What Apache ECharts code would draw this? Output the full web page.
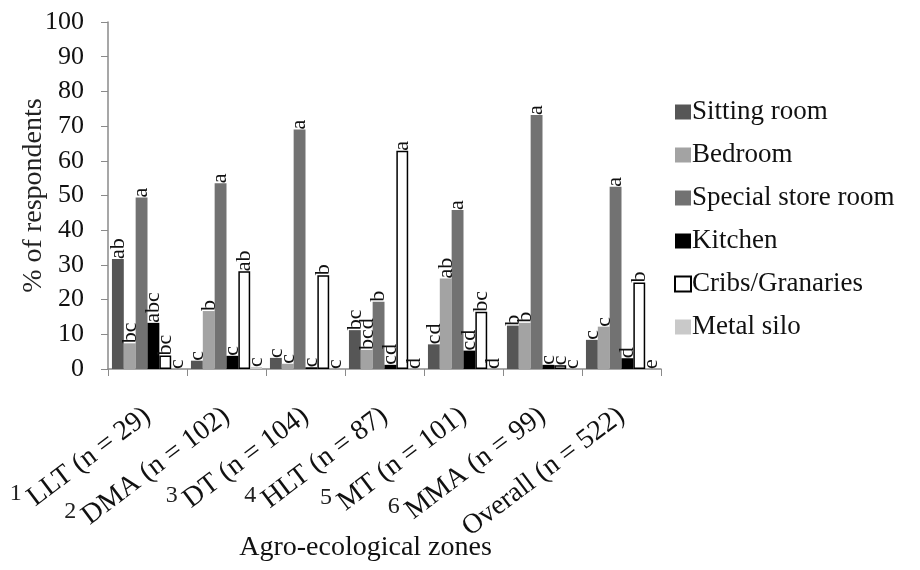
<!DOCTYPE html>
<html>
<head>
<meta charset="utf-8">
<script src="https://cdn.jsdelivr.net/npm/echarts@6/dist/echarts.min.js"></script>
<style>html,body{margin:0;padding:0;background:#fff}#c{width:920px;height:570px}</style>
</head>
<body>
<div id="c"></div>
<script>
const zoneNums = ['1', '2', '3', '4', '5', '6', ''];
const zones = ['LLT (n = 29)', 'DMA (n = 102)', 'DT (n = 104)', 'HLT (n = 87)', 'MT (n = 101)', 'MMA (n = 99)', 'Overall (n = 522)'];
const seriesNames = ['Sitting room', 'Bedroom', 'Special store room', 'Kitchen', 'Cribs/Granaries', 'Metal silo'];
const sittingRoom = [31.7, 2.4, 3.2, 11.2, 7.1, 12.5, 8.4];
const bedroom = [7.4, 16.7, 1.5, 5.5, 26.1, 13.3, 12.2];
const specialStore = [49.4, 53.5, 69.0, 19.4, 45.8, 73.2, 52.5];
const kitchen = [13.3, 3.8, 0.5, 1.2, 5.3, 1.2, 3.1];
const cribs = [3.9, 28.2, 27.0, 62.9, 16.5, 1.1, 24.9];
const metalSilo = [0, 0.6, 0, 0, 0, 0, 0];
const sittingLetters = ['ab', 'c', 'c', 'bc', 'cd', 'b', 'c'];
const bedroomLetters = ['bc', 'b', 'c', 'bcd', 'ab', 'b', 'c'];
const specialLetters = ['a', 'a', 'a', 'b', 'a', 'a', 'a'];
const kitchenLetters = ['abc', 'c', 'c', 'cd', 'cd', 'c', 'd'];
const cribsLetters = ['bc', 'ab', 'b', 'a', 'bc', 'c', 'b'];
const siloLetters = ['c', 'c', 'c', 'd', 'd', 'c', 'e'];
const yTicks = [0, 10, 20, 30, 40, 50, 60, 70, 80, 90, 100];

const values = [sittingRoom, bedroom, specialStore, kitchen, cribs, metalSilo];
const letters = [sittingLetters, bedroomLetters, specialLetters, kitchenLetters, cribsLetters, siloLetters];
const fills = ['#565656', '#a3a3a3', '#727272', '#000000', '#ffffff', '#c9c9c9'];
const borders = [null, null, null, null, '#000000', null];
const serif = '"Liberation Serif", "DejaVu Serif", serif';
const labelFontSize = 28;
const labelRotate = 37;
const labelMargin = 44;

const chart = echarts.init(document.getElementById('c'), null, {renderer: 'canvas'});
chart.setOption({
  animation: false,
  backgroundColor: '#ffffff',
  textStyle: {fontFamily: serif},
  grid: {left: 108, right: 259, top: 22, bottom: 201, containLabel: false, outerBoundsMode: 'none'},
  legend: {
    orient: 'vertical', left: 669, top: 93,
    itemWidth: 16, itemHeight: 15, itemGap: 15,
    icon: 'rect',
    textStyle: {fontFamily: serif, fontSize: 27, lineHeight: 28, color: '#111', padding: [0, 0, 0, -4]},
    data: seriesNames
  },
  xAxis: {
    type: 'category',
    data: zones,
    name: 'Agro-ecological zones',
    nameLocation: 'middle', nameGap: 165, nameMoveOverlap: false,
    nameTextStyle: {fontFamily: serif, fontSize: 28, color: '#111', padding: [0, 38, 0, 0]},
    axisLine: {lineStyle: {color: '#8a8a8a', width: 1.5}},
    axisTick: {show: true, length: 7, lineStyle: {color: '#8a8a8a'}, alignWithLabel: false},
    axisLabel: {
      interval: 0, rotate: labelRotate, margin: labelMargin,
      fontFamily: serif, fontSize: labelFontSize, color: '#111'
    }
  },
  yAxis: {
    type: 'value', min: 0, max: 100, interval: 10,
    name: '% of respondents',
    nameLocation: 'middle', nameGap: 60, nameRotate: 90, nameMoveOverlap: false,
    nameTextStyle: {fontFamily: serif, fontSize: 28, color: '#222'},
    axisLine: {show: true, lineStyle: {color: '#8a8a8a', width: 1.5}},
    axisTick: {show: true, length: 7, lineStyle: {color: '#8a8a8a'}},
    splitLine: {show: false},
    axisLabel: {
      margin: 24, fontFamily: serif, fontSize: 26, color: '#111',
      formatter: v => yTicks.includes(v) ? String(v) : ''
    }
  },
  series: values.map((vals, s) => ({
    name: seriesNames[s],
    type: 'bar',
    barGap: '0%',
    barCategoryGap: '10%',
    itemStyle: {color: fills[s], borderColor: borders[s] || fills[s], borderWidth: borders[s] ? 1.5 : 0},
    label: {
      show: true, position: 'top', rotate: 90, align: 'left', verticalAlign: 'middle',
      distance: 0, fontFamily: serif, fontSize: 22, color: '#111',
      formatter: p => letters[s][p.dataIndex]
    },
    data: vals
  }))
});

// upright zone numbers placed just before the start of each rotated axis label
const ctx = document.createElement('canvas').getContext('2d');
ctx.font = labelFontSize + 'px "Liberation Serif"';
const th = labelRotate * Math.PI / 180;
const axisY = chart.convertToPixel({yAxisIndex: 0}, 0);
const nums = [];
zones.forEach((z, i) => {
  if (!zoneNums[i]) return;
  const cx = chart.convertToPixel({xAxisIndex: 0}, i);
  const ay = axisY + labelMargin;
  const w = ctx.measureText(z).width;
  const bx = cx - w * Math.cos(th) + 0.3 * labelFontSize * Math.sin(th);
  const by = ay + w * Math.sin(th) + 0.3 * labelFontSize * Math.cos(th);
  nums.push({
    type: 'text', x: bx - 14, y: by - 2,
    style: {text: zoneNums[i], font: '24px "Liberation Serif"', fill: '#222', align: 'right', verticalAlign: 'bottom'}
  });
});
chart.setOption({graphic: nums});
</script>
</body>
</html>
